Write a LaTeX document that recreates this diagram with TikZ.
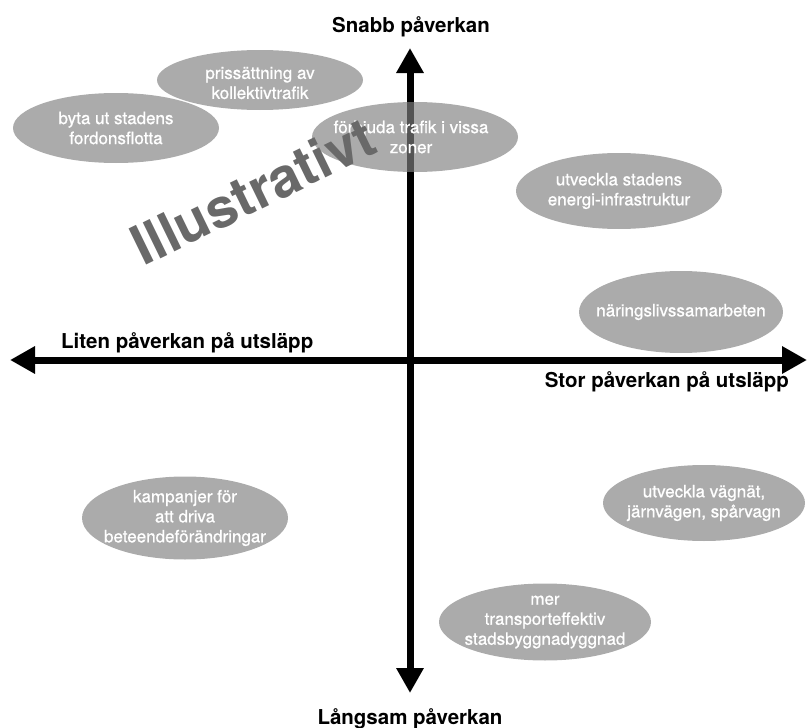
\documentclass[tikz,border=0pt]{standalone}
\usepackage{fontspec}
\setmainfont{TeX Gyre Heros}
\newfontfamily\blobfont{TeX Gyre Heros}[FakeBold=0.8]
\usetikzlibrary{arrows.meta,shapes.geometric}

\definecolor{blobfill}{RGB}{128,128,128}
\definecolor{markgray}{RGB}{105,105,105}

\tikzset{
  axis/.style={line width=7pt},
  axistip/.tip={Triangle[length=25pt,width=26pt]},
  blob/.style={ellipse, fill=blobfill, fill opacity=0.66, draw=none, inner sep=0pt},
  blobtext/.style={text=white, align=center, inner sep=0pt,
                   font=\blobfont\fontsize{17}{20}\selectfont},
  axislabel/.style={inner sep=0pt, font=\bfseries\fontsize{20.5}{23}\selectfont},
  watermark/.style={text=markgray, inner sep=0pt, rotate=26,
                    font=\bfseries\fontsize{55}{55}\selectfont}
}

\begin{document}
\begin{tikzpicture}[x=1pt,y=-1pt]
  \useasboundingbox (0,0) rectangle (807,728);

  % axes
  \coordinate (top) at (410,48);
  \coordinate (bottom) at (410,693);
  \coordinate (left) at (10,360);
  \coordinate (right) at (807,360);
  \draw[axis, axistip-axistip] (bottom) -- (top);
  \draw[axis, axistip-axistip] (left) -- (right);

  % axis labels
  \node[axislabel, anchor=base] (fast) at (411,32) {Snabb påverkan};
  \node[axislabel, anchor=base] (slow) at (410,724) {Långsam påverkan};
  \node[axislabel, anchor=base west] (small) at (61,348) {Liten påverkan på utsläpp};
  \node[axislabel, anchor=base east] (large) at (789,387) {Stor påverkan på utsläpp};

  % measures
  \node[blob, minimum width=206pt, minimum height=60pt] (pris) at (260,80) {};
  \node[blob, minimum width=206pt, minimum height=70pt] (fordon) at (116,128) {};
  \node[blob, minimum width=206pt, minimum height=70pt] (forbud) at (415,137) {};
  \node[blob, minimum width=206pt, minimum height=76pt] (energi) at (619,191) {};
  \node[blob, minimum width=204pt, minimum height=82pt] (naring) at (681,312) {};
  \node[blob, minimum width=206pt, minimum height=83pt] (kampanj) at (185,518) {};
  \node[blob, minimum width=202pt, minimum height=76pt] (vagnat) at (704,503) {};
  \node[blob, minimum width=212pt, minimum height=77pt] (stad) at (545,622) {};

  \node[blobtext] at ([yshift=-3pt]pris) {prissättning av\\kollektivtrafik};
  \node[blobtext] at (fordon) {byta ut stadens\\fordonsflotta};
  \node[blobtext] at ([xshift=-4pt]forbud) {förbjuda trafik i vissa\\zoner};
  \node[blobtext] at (energi) {utveckla stadens\\energi-infrastruktur};
  \node[blobtext] at (naring) {näringslivssamarbeten};
  \node[blobtext] at (kampanj) {kampanjer för\\att driva\\beteendeförändringar};
  \node[blobtext] at (vagnat) {utveckla vägnät,\\järnvägen, spårvagn};
  \node[blobtext] at (stad) {mer\\transporteffektiv\\stadsbyggnadyggnad};

  % overlay stamp
  \node[watermark] (stamp) at (253,191) {Illustrativt};
\end{tikzpicture}
\end{document}
